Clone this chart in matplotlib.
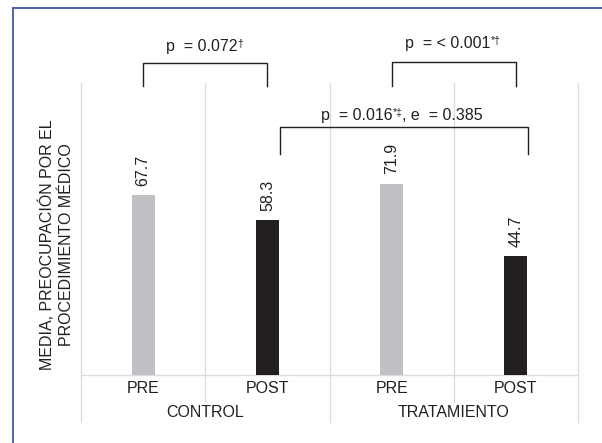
import matplotlib.pyplot as plt
from matplotlib.lines import Line2D
from matplotlib.transforms import blended_transform_factory

plt.rcParams['font.family'] = ['Liberation Sans', 'DejaVu Sans']

# datos
momentos = ['PRE', 'POST', 'PRE', 'POST']
grupos = ['CONTROL', 'TRATAMIENTO']
medias = [67.7, 58.3, 71.9, 44.7]
colores = ['#bfc0c3', '#231f20', '#bfc0c3', '#231f20']
etiqueta_y = 'MEDIA, PREOCUPACIÓN POR EL\nPROCEDIMIENTO MÉDICO'

# comparaciones: (x1, x2, y_base, y_top, texto, superindice, resto, x_texto, y_texto)
comparaciones = [
    (0.0, 1.0, 108.8, 117.5, 'p  = 0.072', '†', '', 0.18, 123.9),
    (2.0, 3.0, 109.0, 117.9, 'p  = < 0.001', '*†', '', 2.11, 125.0),
    (1.1, 3.1, 83.2, 93.4, 'p  = 0.016', '*‡', ', e  = 0.385', 1.43, 97.9),
]


def main():
    fig = plt.figure(figsize=(6.02, 4.43), dpi=100)
    ax = fig.add_axes([0.1346, 0.1535, 0.8256, 0.6591])
    x = list(range(len(medias)))

    ax.bar(x, medias, width=0.185, color=colores, zorder=3)
    for xi, v in zip(x, medias):
        ax.annotate(f'{v:.1f}', (xi, v), xytext=(0, 7), textcoords='offset points',
                    rotation=90, ha='center', va='bottom', fontsize=11.5, color='#231f20')

    ax.set_xlim(-0.5, 3.5)
    ax.set_ylim(0, 110)
    ax.set_xticks([])
    ax.set_yticks([])
    for s in ax.spines.values():
        s.set_visible(False)

    trans = blended_transform_factory(ax.transData, ax.transAxes)
    gris = '#dcdcdc'
    # lineas verticales y eje multinivel
    for xl in [-0.5, 1.5, 3.5]:
        ax.plot([xl, xl], [1, -0.161], transform=trans, color=gris, lw=1, clip_on=False, zorder=1)
    for xl in [0.5, 2.5]:
        ax.plot([xl, xl], [1, -0.092], transform=trans, color=gris, lw=1, clip_on=False, zorder=1)
    ax.plot([-0.5, 3.5], [0, 0], color=gris, lw=1, clip_on=False, zorder=2)

    for xi, m in zip(x, momentos):
        ax.text(xi, -0.045, m, transform=trans, ha='center', va='center', fontsize=11.5, color='#231f20')
    for i, g in enumerate(grupos):
        ax.text(2 * i + 0.5, -0.127, g, transform=trans, ha='center', va='center', fontsize=11.5, color='#231f20')

    # corchetes de significacion
    for x1, x2, yb, yt, txt, sup, resto, xt, yt_txt in comparaciones:
        ax.plot([x1, x1, x2, x2], [yb, yt, yt, yb], color='#231f20', lw=1,
                clip_on=False, solid_joinstyle='round', zorder=4)
        t1 = ax.text(xt, yt_txt, txt, ha='left', va='center', fontsize=11.5, color='#231f20')
        t2 = ax.annotate(sup, xy=(1.0, 0.95), xycoords=t1, ha='left', va='top',
                         fontsize=7.5, color='#231f20')
        if resto:
            ax.annotate(resto, xy=(1.0, 0.0), xycoords=(t2, t1), ha='left', va='bottom',
                        fontsize=11.5, color='#231f20')

    fig.text(0.093, 0.447, etiqueta_y, rotation=90, ha='center', va='center',
             multialignment='center', fontsize=11.5, color='#231f20', linespacing=1.3)

    # marco
    azul = '#4058a8'
    fig.add_artist(Line2D([12.5 / 602, 1.0], [435 / 443, 435 / 443], color=azul, lw=1.3))
    fig.add_artist(Line2D([12.5 / 602, 12.5 / 602], [0, 435 / 443], color=azul, lw=1.3))

    fig.savefig('out.png', dpi=100)


if __name__ == "__main__":
    main()
